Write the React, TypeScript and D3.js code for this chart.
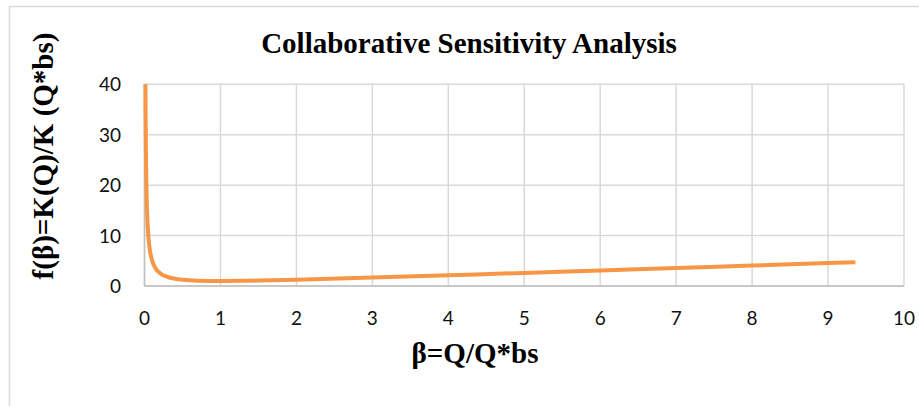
import React from "react";
import * as d3 from "d3";

const betaValues = [0.0125, 0.015, 0.02, 0.025, 0.03, 0.04, 0.05, 0.07, 0.1, 0.15, 0.2, 0.3, 0.4, 0.5, 0.7, 1, 1.5, 2, 3, 4, 5, 6, 7, 8, 9, 9.36];
const fValues = [40, 33.3, 25, 20, 16.7, 12.5, 10, 7.2, 5.05, 3.4, 2.6, 1.82, 1.45, 1.25, 1.06, 1, 1.08, 1.25, 1.67, 2.13, 2.6, 3.08, 3.57, 4.06, 4.56, 4.73];
const xTicks = [0, 1, 2, 3, 4, 5, 6, 7, 8, 9, 10];
const yTicks = [0, 10, 20, 30, 40];

const title = "Collaborative Sensitivity Analysis";
const xTitle = "β=Q/Q*bs";
const yTitle = "f(β)=K(Q)/K (Q*bs)";

export default function App() {
  const W = 919, H = 406;
  const x = d3.scaleLinear().domain([0, 10]).range([144.5, 904]);
  const y = d3.scaleLinear().domain([0, 40]).range([286, 84.3]);
  const pts: [number, number][] = betaValues.map((b, i) => [b, fValues[i]]);
  const line = d3.line<[number, number]>().x(d => x(d[0])).y(d => y(d[1])).curve(d3.curveMonotoneX);
  const tickFont = "Lato, 'Open Sans', sans-serif";
  const serif = "'Liberation Serif', 'Times New Roman', serif";
  return (
    <svg width={W} height={H} style={{ position: "absolute", left: 0, top: 0, background: "#fff" }}>
      <rect x={9.5} y={6.5} width={930} height={430} fill="#fff" stroke="#d9d9d9" strokeWidth={1.5} />
      <text x={469} y={53} textAnchor="middle" fontFamily={serif} fontWeight="bold" fontSize={29} fill="#000">{title}</text>
      {xTicks.map(t => (
        <line key={"gx" + t} x1={x(t)} x2={x(t)} y1={y(40)} y2={y(0)} stroke="#d9d9d9" strokeWidth={1.5} />
      ))}
      {yTicks.map(t => (
        <line key={"gy" + t} x1={x(0)} x2={x(10)} y1={y(t)} y2={y(t)} stroke="#d9d9d9" strokeWidth={1.5} />
      ))}
      <line x1={x(0)} x2={x(10)} y1={y(0)} y2={y(0)} stroke="#bfbfbf" strokeWidth={1.5} />
      <line x1={x(0)} x2={x(0)} y1={y(40)} y2={y(0)} stroke="#bfbfbf" strokeWidth={1.5} />
      <path d={line(pts) || ""} fill="none" stroke="#F79646" strokeWidth={4} strokeLinecap="butt" strokeLinejoin="round" />
      {yTicks.map(t => (
        <text key={"ly" + t} x={121} y={y(t) + 7} textAnchor="end" fontFamily={tickFont} fontSize={19} fill="#111">{t}</text>
      ))}
      {xTicks.map(t => (
        <text key={"lx" + t} x={x(t)} y={324.5} textAnchor="middle" fontFamily={tickFont} fontSize={19} fill="#111">{t}</text>
      ))}
      <text x={475} y={363} textAnchor="middle" fontFamily={serif} fontWeight="bold" fontSize={29} fill="#000">{xTitle}</text>
      <text transform={`translate(53,156) rotate(-90)`} textAnchor="middle" fontFamily={serif} fontWeight="bold" fontSize={29} fill="#000">{yTitle}</text>
    </svg>
  );
}
